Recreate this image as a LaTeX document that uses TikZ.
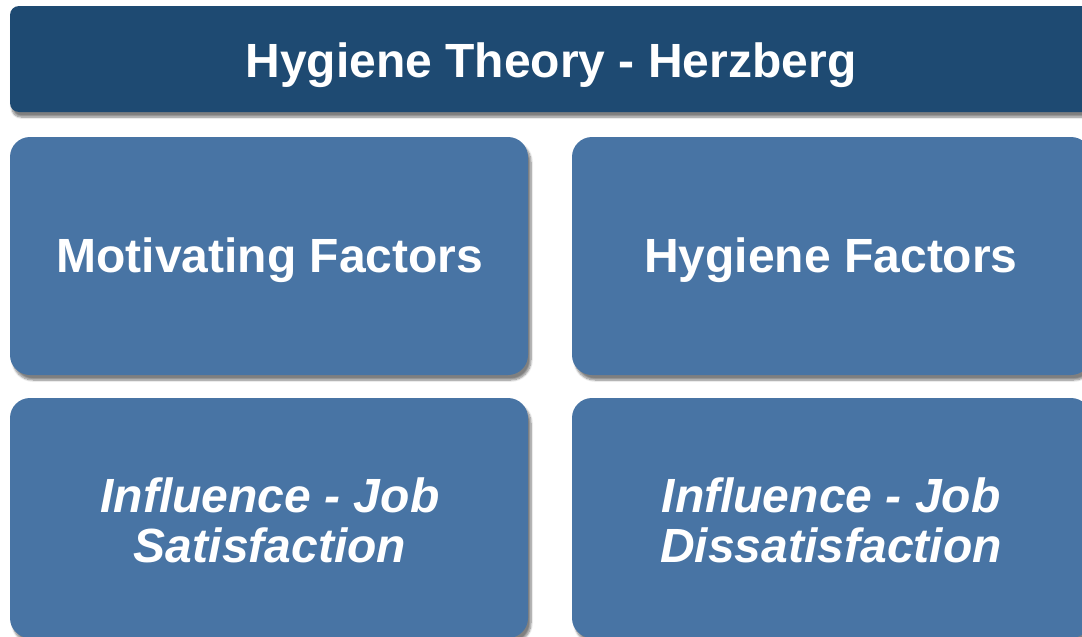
\documentclass[tikz,border=0pt]{standalone}
\usepackage{fontspec}
\setmainfont{Liberation Sans}
\usetikzlibrary{shadows.blur}
\definecolor{titleblue}{HTML}{1E4A72}
\definecolor{boxblue}{HTML}{4874A4}
\begin{document}
\begin{tikzpicture}[x=1pt,y=-1pt,
  panel/.style={fill=boxblue, draw=none, rounded corners=20pt,
    blur shadow={shadow xshift=3pt, shadow yshift=-5pt, shadow blur steps=8, shadow blur extra rounding=2pt, shadow opacity=50}},
  titlepanel/.style={fill=titleblue, draw=none, rounded corners=9pt,
    blur shadow={shadow xshift=2pt, shadow yshift=-5pt, shadow blur steps=8, shadow opacity=50}},
  lbl/.style={text=white, font=\fontsize{48}{51}\selectfont\bfseries, align=center}]
\useasboundingbox (0,0) rectangle (1082,637);
\begin{scope}
\clip (0,0) rectangle (1082,637);
\fill[titlepanel] (10,6) rectangle (1092,112);
\fill[panel] (10,137) rectangle (528,375);
\fill[panel] (572,137) rectangle (1091,375);
\fill[panel] (10,398) rectangle (528,638);
\fill[panel] (572,398) rectangle (1091,638);
\end{scope}
\node[lbl] (title) at (551,65) {Hygiene Theory - Herzberg};
\node[lbl] (mot) at (270,260) {Motivating Factors};
\node[lbl] (hyg) at (831,260) {Hygiene Factors};
\node[lbl, font=\fontsize{48}{50}\selectfont\bfseries\itshape] (sat) at (270,520) {Influence - Job\\Satisfaction};
\node[lbl, font=\fontsize{48}{50}\selectfont\bfseries\itshape] (dis) at (831,520) {Influence - Job\\Dissatisfaction};
\end{tikzpicture}
\end{document}
